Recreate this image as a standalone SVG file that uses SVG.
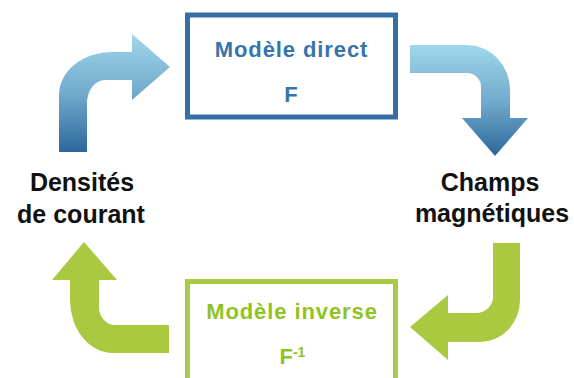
<svg xmlns="http://www.w3.org/2000/svg" width="574" height="378" viewBox="0 0 574 378">
  <defs>
    <linearGradient id="blueGrad" x1="0" y1="0" x2="0" y2="1">
      <stop offset="0" stop-color="#a0d7ea"/>
      <stop offset="0.5" stop-color="#72abcd"/>
      <stop offset="1" stop-color="#2c679b"/>
    </linearGradient>
    <style>
      .lbl { font-family: "Liberation Sans", Arial, sans-serif; font-weight: bold; font-size: 25px; fill: #111111; text-anchor: middle; }
      .box-t { font-family: "Liberation Sans", Arial, sans-serif; font-weight: bold; font-size: 22px; text-anchor: middle; letter-spacing: 0.9px; }
      .blue-box { fill: #ffffff; stroke: #3570a5; stroke-width: 5; }
      .green-box { fill: #ffffff; stroke: #a9ca45; stroke-width: 5; }
      .blue-t { fill: #3874aa; }
      .green-t { fill: #8fc31f; }
      .arrow-blue { fill: url(#blueGrad); }
      .arrow-green { fill: #aac940; }
    </style>
  </defs>
  <rect width="574" height="378" fill="#ffffff"/>

  <g id="connectors">
    <path class="arrow-blue" d="M 59 152 L 59 95 A 53 43 0 0 1 112 52 L 132 52 L 132 34 L 170 67 L 132 100 L 132 80 L 105 80 A 18 23 0 0 0 87 103 L 87 152 Z"/>
    <path class="arrow-blue" d="M 410 45 L 467 45 A 43 45 0 0 1 510 90 L 510 118 L 528 118 L 495 156 L 462 118 L 481 118 L 481 87 A 14 14 0 0 0 467 73 L 410 73 Z"/>
    <path class="arrow-green" d="M 493 243 L 520 243 L 520 300 A 40 42 0 0 1 480 342 L 448 342 L 448 360 L 410 327 L 448 295 L 448 313 L 476 313 A 17 16 0 0 0 493 297 Z"/>
    <path class="arrow-green" d="M 169 325 L 169 353 L 113 353 A 43 53 0 0 1 70 300 L 70 280 L 52 280 L 84 242 L 117 280 L 99 280 L 99 307 A 16 18 0 0 0 115 325 Z"/>
  </g>

  <g id="modele-direct">
    <rect class="blue-box" x="187.5" y="15" width="208" height="102"/>
    <text class="box-t blue-t" x="291.5" y="57">Modèle direct</text>
    <text class="box-t blue-t" x="291.5" y="101.5">F</text>
  </g>

  <g id="modele-inverse">
    <rect class="green-box" x="187.5" y="281.5" width="208" height="120"/>
    <text class="box-t green-t" x="292" y="318.5">Modèle inverse</text>
    <text class="green-t" x="279.5" y="364" style="font-family: 'Liberation Sans', Arial, sans-serif; font-weight: bold; font-size: 22px;">F<tspan dy="-7" style="font-size: 14px;">-1</tspan></text>
  </g>

  <g id="densites">
    <text class="lbl" x="82" y="191">Densités</text>
    <text class="lbl" x="81" y="223">de courant</text>
  </g>

  <g id="champs">
    <text class="lbl" x="490" y="191">Champs</text>
    <text class="lbl" x="492" y="222">magnétiques</text>
  </g>
</svg>
